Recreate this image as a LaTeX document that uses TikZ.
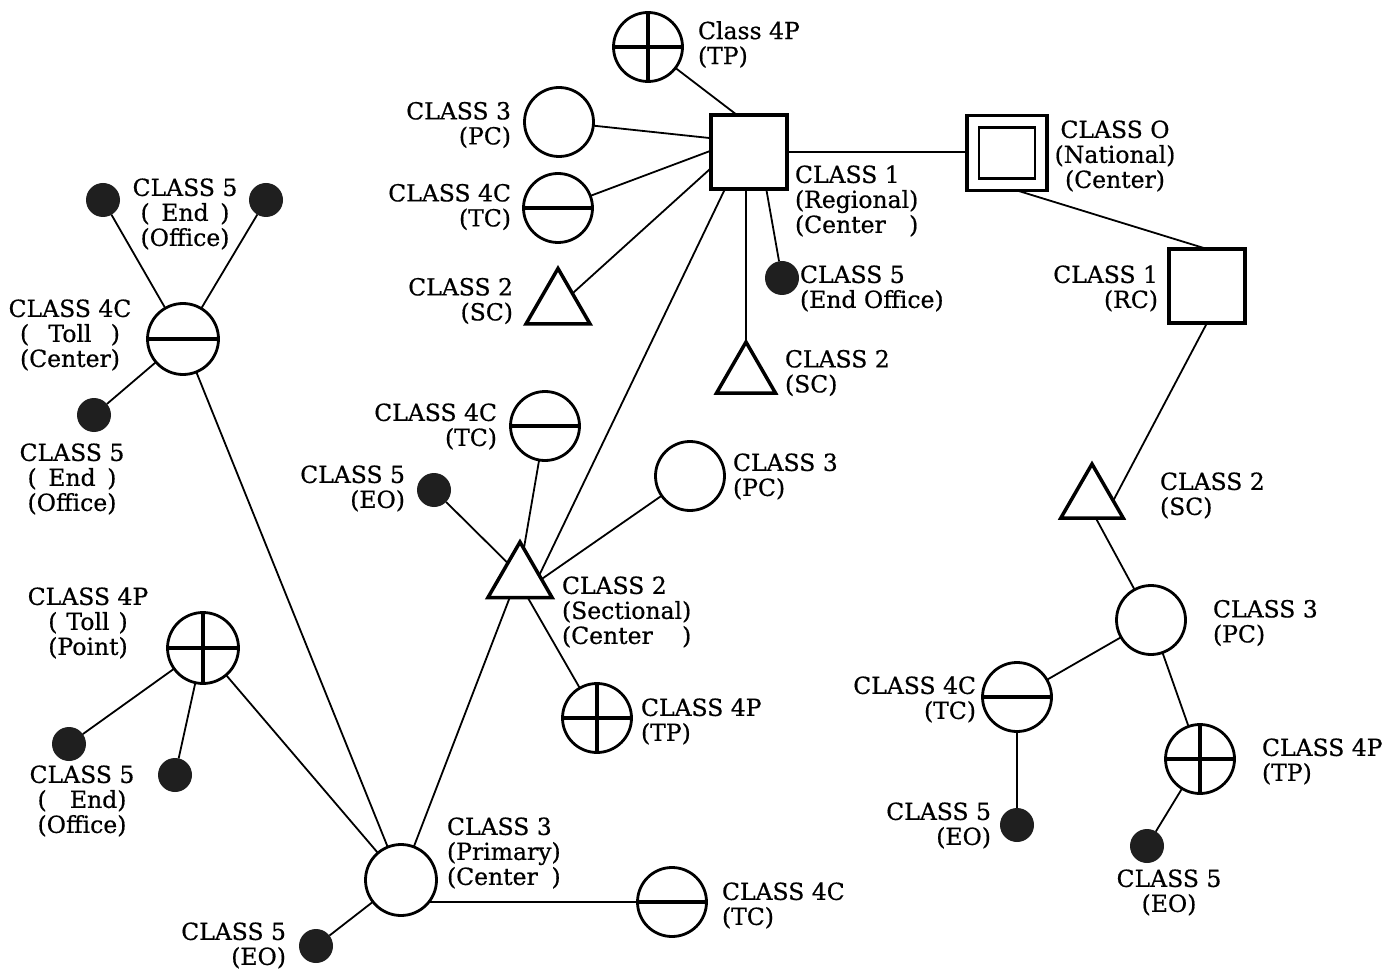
\documentclass[tikz,border=0pt]{standalone}
\usepackage{fontspec}
\setmainfont{DejaVu Serif}[FakeBold=0.6]
\usetikzlibrary{shapes.geometric,calc}
\newcommand\pmid[2]{\setbox0\hbox{#1}\hbox to\wd0{(\hfil #2\hfil)}}
\newcommand\pleft[2]{\setbox0\hbox{#1}\hbox to\wd0{(#2\hfil)}}
\newcommand\pright[2]{\setbox0\hbox{#1}\hbox to\wd0{(\hfil #2)}}
\begin{document}
\begin{tikzpicture}[x=1pt,y=-1pt,line width=1.8pt,
  every node/.style={font=\fontsize{23.5}{25}\selectfont,inner sep=0pt,outer sep=0pt},
  pcnode/.style={circle,draw,line width=2.8pt,minimum size=69pt,fill=white},
  tcnode/.style={pcnode,path picture={\draw[line width=3.5pt] (path picture bounding box.west) -- (path picture bounding box.east);}},
  tpnode/.style={pcnode,path picture={\draw[line width=3.5pt] (path picture bounding box.west) -- (path picture bounding box.east) (path picture bounding box.north) -- (path picture bounding box.south);}},
  scnode/.style={regular polygon,regular polygon sides=3,draw,line width=3.5pt,minimum size=74pt,fill=white},
  rcnode/.style={rectangle,draw,line width=3.2pt,minimum width=76pt,minimum height=74pt,fill=white},
  ncnode/.style={rectangle,draw,line width=3.8pt,minimum width=80pt,minimum height=75pt,fill=white,
    path picture={\draw[line width=2.6pt] ([xshift=12pt,yshift=12pt]path picture bounding box.south west) rectangle ([xshift=-12pt,yshift=-12pt]path picture bounding box.north east);}},
  eonode/.style={circle,fill=black!88,minimum size=34pt},
  lbll/.style={anchor=west,align=left},
  lblr/.style={anchor=east,align=right},
  lblc/.style={anchor=center,align=center}
]
\useasboundingbox (0,0) rectangle (1389,973);

% ---------- shapes ----------
% top group
\node[tpnode] (tpA) at (648,47) {};
\node[pcnode] (pcA) at (559,122) {};
\node[tcnode] (tcA) at (558,208) {};
\node[scnode] (scA) at (558,305.5) {};
\node[rcnode] (reg) at (749,152) {};
\node[eonode] (eoA) at (782,278) {};
\node[scnode,minimum size=68pt] (scB) at (746,376) {};
\node[ncnode] (nat) at (1007,153) {};
% right group
\node[rcnode] (rcR) at (1207,286) {};
\node[scnode,minimum size=72pt] (scR) at (1092,500) {};
\node[pcnode] (pcR) at (1151,620) {};
\node[tcnode] (tcR) at (1017,697) {};
\node[tpnode] (tpR) at (1200,759) {};
\node[eonode] (eoR1) at (1017,825) {};
\node[eonode] (eoR2) at (1147,846) {};
% left group
\node[tcnode,minimum size=71pt] (tcL) at (183,339) {};
\node[eonode] (eoL1) at (103,200) {};
\node[eonode] (eoL2) at (266,200) {};
\node[eonode] (eoL3) at (94,415) {};
\node[tpnode,minimum size=71pt] (tpL) at (203,648) {};
\node[eonode] (eoL4) at (69,744) {};
\node[eonode] (eoL5) at (175,775) {};
\node[pcnode,minimum size=71pt] (prim) at (401,880) {};
\node[eonode] (eoL6) at (316,946) {};
\node[tcnode] (tcB) at (672,902) {};
% middle (sectional) group
\node[scnode] (sec) at (520,579) {};
\node[tcnode] (tcM) at (545,426) {};
\node[eonode] (eoM) at (434,490) {};
\node[pcnode] (pcM) at (690,476) {};
\node[tpnode] (tpM) at (597,718) {};

% ---------- connectors ----------
\draw (tpA) -- (reg.108);
\draw (pcA) -- (reg.160);
\draw (tcA) -- (reg.178);
\draw ($(scA.corner 1)!0.45!(scA.corner 3)$) -- (reg.203);
\draw (reg.237) -- ($(sec.corner 1)!0.6!(sec.corner 3)$);
\draw (scB.corner 1) -- (scB.corner 1 |- reg.south);
\draw (reg.295) -- (eoA);
\draw (reg.east) -- (reg.east -| nat.west);
\draw (nat.285) -- (rcR.north);
\draw (rcR.south) -- ($(scR.corner 1)!0.68!(scR.corner 3)$);
\draw ($(scR.corner 2)!0.56!(scR.corner 3)$) -- (pcR);
\draw (pcR) -- (tcR);
\draw (pcR) -- (tpR);
\draw (tcR) -- (eoR1);
\draw (tpR) -- (eoR2);
\draw (tcL) -- (eoL1);
\draw (tcL) -- (eoL2);
\draw (tcL) -- (eoL3);
\draw (tcL) -- (prim);
\draw (tpL) -- (eoL4);
\draw (tpL) -- (eoL5);
\draw (tpL) -- (prim);
\draw (prim) -- (eoL6);
\draw (prim.-39) -- (prim.-39 -| tcB.west);
\draw (prim) -- ($(sec.corner 2)!0.34!(sec.corner 3)$);
\draw ($(sec.corner 1)!0.12!(sec.corner 3)$) -- (tcM);
\draw ($(sec.corner 1)!0.38!(sec.corner 2)$) -- (eoM);
\draw ($(sec.corner 1)!0.67!(sec.corner 3)$) -- (pcM);
\draw ($(sec.corner 2)!0.62!(sec.corner 3)$) -- (tpM);

% ---------- labels ----------
\node[lbll] (ltpA) at (698,44.5) {Class 4P\\(TP)};
\node[lblr] (lpcA) at (511,125) {CLASS 3\\(PC)};
\node[lblr] (ltcA) at (511,207) {CLASS 4C\\(TC)};
\node[lblr] (lscA) at (513,301) {CLASS 2\\(SC)};
\node[lbll] (lreg) at (795,201) {CLASS 1\\(Regional)\\\pleft{(Regional)}{Center}};
\node[lbll] (leoA) at (800,288.5) {CLASS 5\\(End Office)};
\node[lbll] (lscB) at (785,373) {CLASS 2\\(SC)};
\node[lblc] (lnat) at (1115,156) {CLASS O\\(National)\\(Center)};
\node[lblr] (lrcR) at (1158,288.5) {CLASS 1\\(RC)};
\node[lbll] (lscR) at (1160,495.5) {CLASS 2\\(SC)};
\node[lbll] (lpcR) at (1213,623) {CLASS 3\\(PC)};
\node[lblr] (ltcR) at (976,699.5) {CLASS 4C\\(TC)};
\node[lblr] (leoR1) at (991,825.5) {CLASS 5\\(EO)};
\node[lbll] (ltpR) at (1262,761.5) {CLASS 4P\\(TP)};
\node[lblc] (leoR2) at (1169,892.5) {CLASS 5\\(EO)};
\node[lblc] (leoL12) at (185,214) {CLASS 5\\\pmid{(Office)}{End}\\(Office)};
\node[lblc] (ltcL) at (70,335) {CLASS 4C\\\pmid{(Center)}{Toll}\\(Center)};
\node[lblc] (leoL3) at (72,479) {CLASS 5\\\pmid{(Office)}{End}\\(Office)};
\node[lblc] (ltpL) at (88,623) {CLASS 4P\\\pmid{(Point)}{Toll}\\(Point)};
\node[lblc] (leoL45) at (82,801) {CLASS 5\\\pright{(Office)}{End}\\(Office)};
\node[lblr] (leoL6) at (286,945.5) {CLASS 5\\(EO)};
\node[lbll] (lprim) at (447,853) {CLASS 3\\(Primary)\\\pleft{(Primary)}{Center}};
\node[lbll] (ltcB) at (722,905.5) {CLASS 4C\\(TC)};
\node[lblr] (ltcM) at (497,426.5) {CLASS 4C\\(TC)};
\node[lblr] (leoM) at (405,488.5) {CLASS 5\\(EO)};
\node[lbll] (lpcM) at (733,476.5) {CLASS 3\\(PC)};
\node[lbll] (lsec) at (562,612) {CLASS 2\\(Sectional)\\\pleft{(Sectional)}{Center}};
\node[lbll] (ltpM) at (641,721.5) {CLASS 4P\\(TP)};
\end{tikzpicture}
\end{document}
